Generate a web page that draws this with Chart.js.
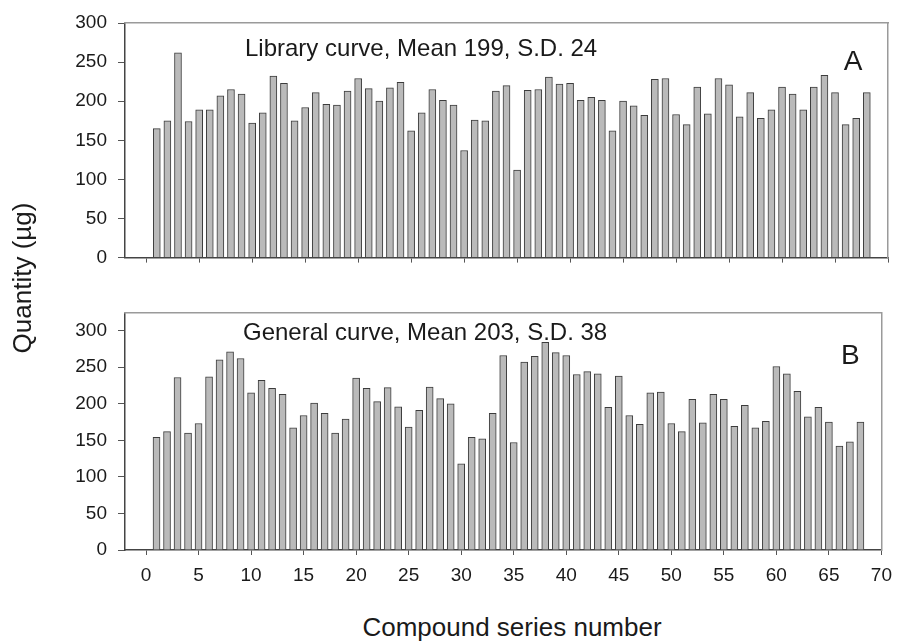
<!DOCTYPE html>
<html>
<head>
<meta charset="utf-8">
<script src="https://cdn.jsdelivr.net/npm/chart.js@4.4.0/dist/chart.umd.min.js"></script>
<style>
  html, body { margin: 0; padding: 0; background: #fff; }
  body { width: 901px; height: 641px; position: relative; overflow: hidden; font-family: "Liberation Sans", Arial, sans-serif; color: #1a1a1a; }
  .panel { position: absolute; left: 0; width: 901px; }
  #panelA { top: 0; height: 280px; }
  #panelB { top: 290px; height: 300px; }
  #yTitle { position: absolute; left: 22px; top: 278px; width: 220px; height: 30px; margin-left: -110px; margin-top: -15px; line-height: 30px; text-align: center; font-size: 26px; transform: rotate(-90deg); white-space: nowrap; }
  #xTitle { position: absolute; left: 512px; top: 612px; width: 400px; margin-left: -200px; line-height: 30px; text-align: center; font-size: 26px; white-space: nowrap; }
</style>
</head>
<body>
<div class="panel" id="panelA"><canvas id="chartA"></canvas></div>
<div class="panel" id="panelB"><canvas id="chartB"></canvas></div>
<div id="yTitle">Quantity (µg)</div>
<div id="xTitle">Compound series number</div>
<script>
// numéros de série des composés
const compounds = [1, 2, 3, 4, 5, 6, 7, 8, 9, 10, 11, 12, 13, 14, 15, 16, 17, 18, 19, 20,
  21, 22, 23, 24, 25, 26, 27, 28, 29, 30, 31, 32, 33, 34, 35, 36, 37, 38, 39, 40,
  41, 42, 43, 44, 45, 46, 47, 48, 49, 50, 51, 52, 53, 54, 55, 56, 57, 58, 59, 60,
  61, 62, 63, 64, 65, 66, 67, 68];

// A : courbe "library"
const libraryQty = [165, 175, 262, 174, 189, 189, 207, 215, 209, 172,
  185, 232, 223, 175, 192, 211, 196, 195, 213, 229,
  216, 200, 217, 224, 162, 185, 215, 201, 195, 137,
  176, 175, 213, 220, 112, 214, 215, 231, 222, 223,
  201, 205, 201, 162, 200, 194, 182, 228, 229, 183,
  170, 218, 184, 229, 221, 180, 211, 178, 189, 218,
  209, 189, 218, 233, 211, 170, 178, 211];

// B : courbe générale
const generalQty = [154, 162, 236, 160, 173, 237, 260, 271, 262, 215,
  232, 221, 213, 167, 184, 201, 187, 160, 179, 235,
  221, 203, 222, 196, 168, 191, 223, 207, 200, 118,
  154, 152, 187, 266, 147, 257, 265, 284, 270, 266,
  240, 244, 241, 195, 238, 184, 172, 215, 216, 173,
  162, 206, 174, 213, 206, 169, 198, 167, 176, 251,
  241, 217, 182, 195, 175, 142, 148, 175];

const xTicks = [0, 5, 10, 15, 20, 25, 30, 35, 40, 45, 50, 55, 60, 65, 70];
const yTicks = [0, 50, 100, 150, 200, 250, 300];

const family = '"Liberation Sans", Arial, sans-serif';

// texte dans le panneau (légende + lettre)
const panelText = {
    id: "panelText",
    afterDatasetsDraw(chart, args, o) {
        const { ctx, chartArea } = chart;
        ctx.save();
        ctx.fillStyle = "#1a1a1a";
        ctx.textBaseline = "alphabetic";
        ctx.font = "24px " + family;
        ctx.textAlign = "left";
        ctx.fillText(o.label, chartArea.left + o.labelDx, chartArea.top + o.labelDy);
        ctx.font = "28px " + family;
        ctx.textAlign = "center";
        ctx.fillText(o.letter, chartArea.right - o.letterDx, chartArea.top + o.letterDy);
        ctx.restore();
    }
};

function makePanel(id, values, yMax, padTop, showXLabels, text) {
    const ctx = document.getElementById(id);
    return new Chart(ctx, {
        type: "bar",
        data: {
            datasets: [{
                data: compounds.map((c, i) => ({ x: c, y: values[i] })),
                backgroundColor: "#bababa",
                borderColor: "#3c3c3c",
                borderWidth: 1,
                barThickness: 7
            }]
        },
        options: {
            responsive: true,
            maintainAspectRatio: false,
            animation: false,
            layout: { padding: { top: padTop, right: 13, bottom: 0, left: 0 } },
            plugins: {
                legend: { display: false },
                tooltip: { enabled: false },
                panelText: text
            },
            scales: {
                x: {
                    type: "linear", min: -2, max: 70, offset: false,
                    afterBuildTicks: s => { s.ticks = xTicks.map(v => ({ value: v })); },
                    afterFit: s => { s.height = showXLabels ? 40 : 11; },
                    grid: { display: true, offset: false, drawOnChartArea: false, drawTicks: true, tickLength: 5, color: "#555" },
                    border: { display: true, color: "#444", width: 1.5 },
                    ticks: { display: showXLabels, padding: 9, color: "#1a1a1a", font: { size: 19, family }, maxRotation: 0, autoSkip: false }
                },
                y: {
                    type: "linear", min: 0, max: yMax,
                    afterBuildTicks: s => { s.ticks = yTicks.map(v => ({ value: v })); },
                    afterFit: s => { s.width = 125; },
                    grid: { display: true, drawOnChartArea: false, drawTicks: true, tickLength: 7, color: "#555" },
                    border: { display: true, color: "#444", width: 1.5 },
                    ticks: { padding: 11, color: "#1a1a1a", font: { size: 19, family } }
                },
                xTop: {
                    type: "linear", position: "top", min: 0, max: 1,
                    afterFit: s => { s.height = 0; },
                    grid: { display: false, drawTicks: false },
                    ticks: { display: false },
                    border: { display: true, color: "#9a9a9a", width: 1.5 }
                },
                yRight: {
                    type: "linear", position: "right", min: 0, max: 1,
                    afterFit: s => { s.width = 0; },
                    grid: { display: false, drawTicks: false },
                    ticks: { display: false },
                    border: { display: true, color: "#9a9a9a", width: 1.5 }
                }
            }
        },
        plugins: [panelText]
    });
}

makePanel("chartA", libraryQty, 300, 23, false, {
    label: "Library curve, Mean 199, S.D. 24", labelDx: 120, labelDy: 33,
    letter: "A", letterDx: 35, letterDy: 47
});

makePanel("chartB", generalQty, 325, 15, true, {
    label: "General curve, Mean 203, S.D. 38", labelDx: 118, labelDy: 28,
    letter: "B", letterDx: 31, letterDy: 52
});
</script>
</body>
</html>
